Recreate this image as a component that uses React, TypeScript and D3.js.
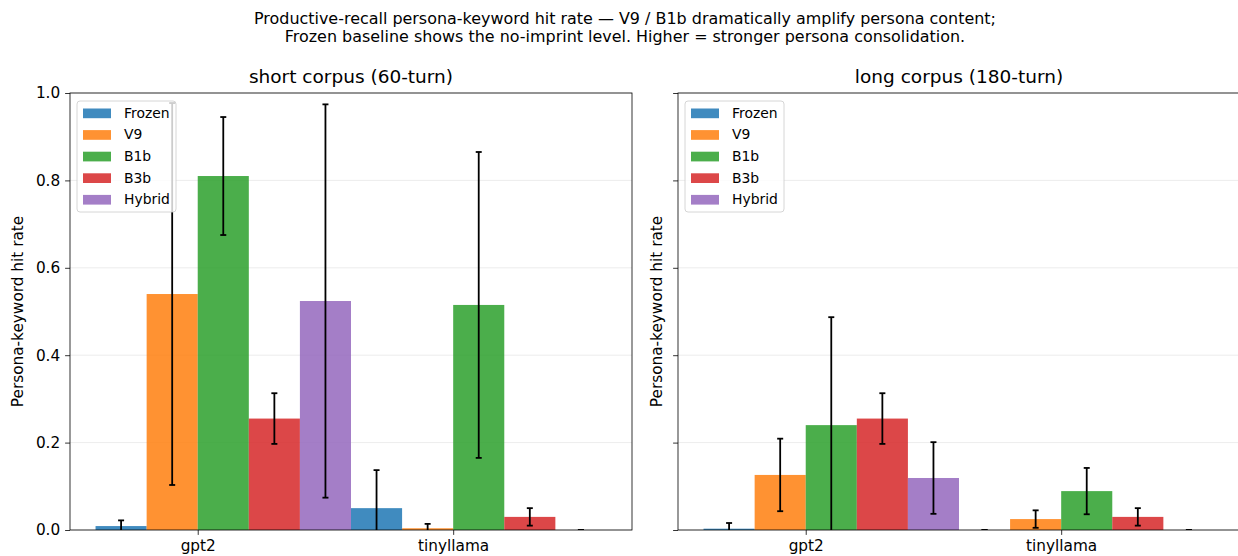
import * as d3 from "d3";
import { useRef, useEffect } from "react";

const models = ["gpt2", "tinyllama"];
const methods = ["Frozen", "V9", "B1b", "B3b", "Hybrid"];
const colors = ["#1f77b4", "#ff7f0e", "#2ca02c", "#d62728", "#9467bd"];

// per method: [gpt2, tinyllama]
const shortMean = [
  [0.009, 0.05],
  [0.54, 0.004],
  [0.81, 0.515],
  [0.255, 0.03],
  [0.524, 0.0],
];
const shortErr = [
  [0.013, 0.087],
  [0.437, 0.01],
  [0.135, 0.35],
  [0.058, 0.02],
  [0.45, 0.0],
];
const longMean = [
  [0.003, 0.0],
  [0.126, 0.025],
  [0.24, 0.089],
  [0.255, 0.03],
  [0.119, 0.0],
];
const longErr = [
  [0.013, 0.0],
  [0.083, 0.02],
  [0.247, 0.053],
  [0.058, 0.02],
  [0.082, 0.0],
];
const yTicks = [0, 0.2, 0.4, 0.6, 0.8, 1.0];

const width = 1238;
const height = 556;
const axTop = 93;
const axBottom = 530;
const axWidth = 562;
const barWidth = 0.2;
const font = "DejaVu Sans, sans-serif";
const tickFont = 15.3;

type panel_type = {
  left: number;
  title: string;
  means: number[][];
  errs: number[][];
  showYLabels: boolean;
  id: string;
};

function Panel({ left, title, means, errs, showYLabels, id }: panel_type) {
  const gx = useRef<SVGGElement>(null);
  const gy = useRef<SVGGElement>(null);
  const innerH = axBottom - axTop;

  const x = d3.scaleLinear([-0.5, 1.7], [0, axWidth]);
  const y = d3.scaleLinear([0, 1], [innerH, 0]);

  useEffect(() => {
    const ax = d3
      .select(gx.current!)
      .call(
        d3
          .axisBottom(x)
          .tickValues([0, 1])
          .tickFormat((d, i) => models[i])
          .tickSize(4.9)
          .tickPadding(4.9)
          .tickSizeOuter(0)
      );
    ax.select(".domain").remove();
    ax.selectAll("text").attr("font-size", tickFont).attr("font-family", font).attr("fill", "#000");
    ax.selectAll("line").attr("stroke", "#000").attr("stroke-width", 0.8);
  }, []);

  useEffect(() => {
    const ax = d3
      .select(gy.current!)
      .call(
        d3
          .axisLeft(y)
          .tickValues(yTicks)
          .tickFormat((d) => (showYLabels ? d3.format(".1f")(d as number) : ""))
          .tickSize(4.9)
          .tickPadding(4.9)
          .tickSizeOuter(0)
      );
    ax.select(".domain").remove();
    ax.selectAll("text").attr("font-size", tickFont).attr("font-family", font).attr("fill", "#000");
    ax.selectAll("line").attr("stroke", "#000").attr("stroke-width", 0.8);
  }, []);

  return (
    <g transform={`translate(${left},${axTop})`}>
      <defs>
        <clipPath id={id}>
          <rect x={0} y={0} width={axWidth} height={innerH} />
        </clipPath>
      </defs>
      {yTicks.map((t) => (
        <line
          key={t}
          x1={0}
          x2={axWidth}
          y1={y(t)}
          y2={y(t)}
          stroke="#b0b0b0"
          strokeOpacity={0.3}
          strokeWidth={0.8}
        />
      ))}
      <g clipPath={`url(#${id})`}>
        {methods.map((m, i) =>
          models.map((_, j) => {
            const x0 = x(j + (i - 1.5) * barWidth - barWidth / 2);
            const x1 = x(j + (i - 1.5) * barWidth + barWidth / 2);
            return (
              <rect
                key={m + j}
                x={x0}
                y={y(means[i][j])}
                width={x1 - x0}
                height={innerH - y(means[i][j])}
                fill={colors[i]}
                fillOpacity={0.85}
              />
            );
          })
        )}
        {methods.map((m, i) =>
          models.map((_, j) => {
            const cx = x(j + (i - 1.5) * barWidth);
            const lo = y(means[i][j] - errs[i][j]);
            const hi = y(means[i][j] + errs[i][j]);
            return (
              <g key={"e" + m + j} stroke="#000" strokeWidth={1.8}>
                <line x1={cx} x2={cx} y1={lo} y2={hi} />
                <line x1={cx - 3} x2={cx + 3} y1={lo} y2={lo} />
                <line x1={cx - 3} x2={cx + 3} y1={hi} y2={hi} />
              </g>
            );
          })
        )}
      </g>
      <rect x={0} y={0} width={axWidth} height={innerH} fill="none" stroke="#000" strokeWidth={0.8} />
      <g ref={gx} transform={`translate(0,${innerH})`} />
      <g ref={gy} />
      <text
        x={axWidth / 2}
        y={-10}
        textAnchor="middle"
        fontSize={18.5}
        fontFamily={font}
      >
        {title}
      </text>
      <text
        transform={`translate(${showYLabels ? -47 : -16},${innerH / 2}) rotate(-90)`}
        textAnchor="middle"
        fontSize={tickFont}
        fontFamily={font}
      >
        Persona-keyword hit rate
      </text>
      <g transform="translate(7,8)">
        <rect
          x={0}
          y={0}
          width={99}
          height={111}
          rx={3}
          fill="#fff"
          fillOpacity={0.8}
          stroke="#cccccc"
          strokeWidth={0.8}
        />
        {methods.map((m, i) => (
          <g key={m} transform={`translate(0,${12 + i * 21.6})`}>
            <rect x={6} y={-4.5} width={28} height={9.7} fill={colors[i]} fillOpacity={0.85} />
            <text x={47} y={0} dy="0.35em" fontSize={13.9} fontFamily={font}>
              {m}
            </text>
          </g>
        ))}
      </g>
    </g>
  );
}

export default function App() {
  useEffect(() => {
    document.body.style.margin = "0";
  }, []);
  return (
    <svg width={width} height={height} style={{ display: "block" }}>
      <rect width={width} height={height} fill="#fff" />
      <text x={625} y={24} textAnchor="middle" fontSize={15.95} fontFamily={font}>
        Productive-recall persona-keyword hit rate — V9 / B1b dramatically amplify persona content;
      </text>
      <text x={625} y={42} textAnchor="middle" fontSize={15.95} fontFamily={font}>
        Frozen baseline shows the no-imprint level. Higher = stronger persona consolidation.
      </text>
      <Panel
        id="clipShort"
        left={70}
        title="short corpus (60-turn)"
        means={shortMean}
        errs={shortErr}
        showYLabels={true}
      />
      <Panel
        id="clipLong"
        left={678}
        title="long corpus (180-turn)"
        means={longMean}
        errs={longErr}
        showYLabels={false}
      />
    </svg>
  );
}
